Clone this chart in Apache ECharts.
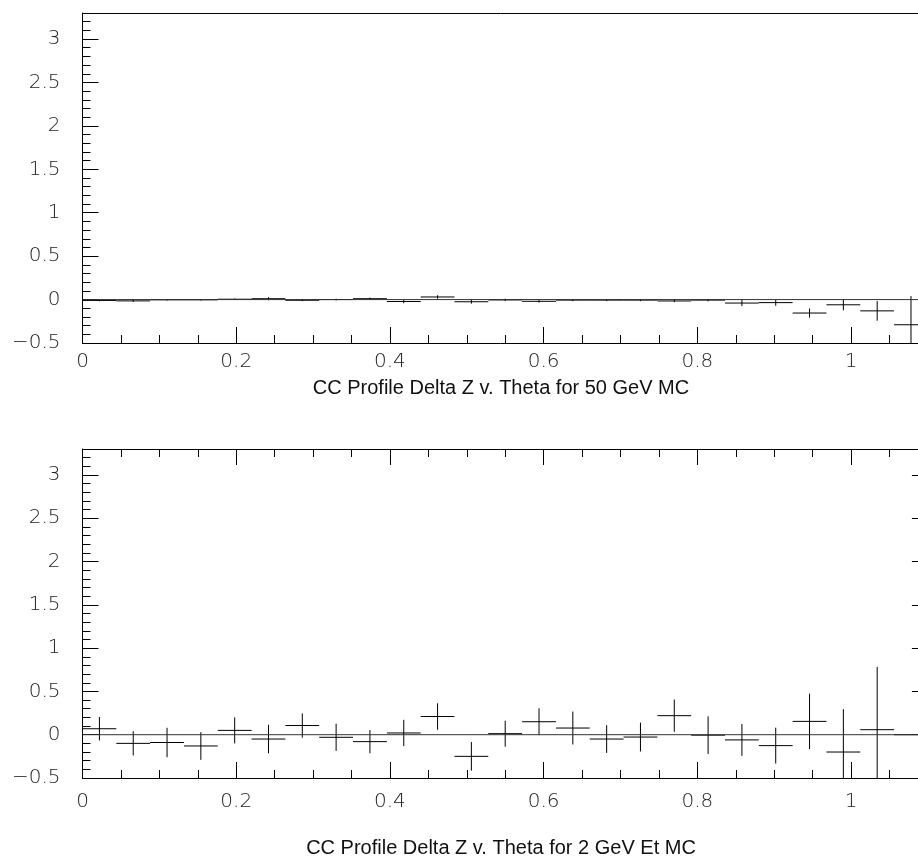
<!DOCTYPE html>
<html>
<head>
<meta charset="utf-8">
<title>CC Profile Delta Z v. Theta</title>
<script src="https://cdn.jsdelivr.net/npm/echarts@6/dist/echarts.min.js"></script>
<style>
  html, body { margin: 0; padding: 0; background: #fff; }
  #chart { width: 918px; height: 861px; }
</style>
</head>
<body>
<div id="chart"></div>
<script>
// Profile bins in theta (bin centres), half bin width
const theta = [0.022, 0.066, 0.110, 0.154, 0.198, 0.242, 0.286, 0.330, 0.374, 0.418,
               0.462, 0.506, 0.550, 0.594, 0.638, 0.682, 0.726, 0.770, 0.814, 0.858,
               0.902, 0.946, 0.990, 1.034, 1.078];
const halfBin = 0.022;

// 50 GeV MC: mean Delta Z per bin and its error
const dz50 = [-0.010, -0.015, -0.003, -0.003, 0.004, 0.010, -0.008, 0.000, 0.010, -0.022,
              0.030, -0.025, -0.004, -0.020, -0.006, -0.006, -0.006, -0.016, -0.006, -0.040,
              -0.035, -0.155, -0.060, -0.130, -0.290];
const dz50Err = [0.010, 0.012, 0.008, 0.008, 0.008, 0.018, 0.010, 0.010, 0.012, 0.020,
                 0.020, 0.022, 0.014, 0.014, 0.012, 0.012, 0.012, 0.014, 0.014, 0.035,
                 0.036, 0.052, 0.063, 0.113, 0.330];

// 2 GeV Et MC: mean Delta Z per bin and its error
const dz2 = [0.069, -0.100, -0.090, -0.130, 0.050, -0.050, 0.106, -0.030, -0.080, 0.020,
             0.210, -0.250, 0.012, 0.150, 0.077, -0.050, -0.027, 0.220, -0.005, -0.060,
             -0.126, 0.154, -0.200, 0.058, 0.000];
const dz2Err = [0.135, 0.140, 0.170, 0.160, 0.150, 0.165, 0.140, 0.157, 0.134, 0.152,
                0.153, 0.165, 0.150, 0.155, 0.190, 0.160, 0.167, 0.186, 0.217, 0.184,
                0.207, 0.320, 0.495, 0.725, 0.000];

const plotTitles = ['CC Profile Delta Z v. Theta for 50 GeV MC',
                    'CC Profile Delta Z v. Theta for 2 GeV Et MC'];

const xMin = 0, xMax = 1.1;
const yMin = -0.5, yMax = 3.3;
const zeroLine = [[xMin, 0], [xMax, 0]];

const ink = '#000';
const labelFont = {
  fontFamily: 'DejaVu Sans',
  fontWeight: 200,
  fontSize: 20,
  color: '#222'
};

function tickText(v) {
  if (Math.abs(v - xMax) < 1e-9 || Math.abs(v - yMax) < 1e-9) return '';
  return String(+v.toFixed(2)).replace('-', '\u2212');
}

function xAxisDef(grid, interval, len, opts) {
  return Object.assign({
    gridIndex: grid, type: 'value', min: xMin, max: xMax, interval: interval,
    position: 'bottom',
    axisLine: { show: false, onZero: false, lineStyle: { color: ink, width: 1 } },
    axisTick: { show: true, inside: true, length: len, lineStyle: { color: ink, width: 1 } },
    axisLabel: { show: false },
    splitLine: { show: false }
  }, opts || {});
}

function yAxisDef(grid, interval, len, opts) {
  return Object.assign({
    gridIndex: grid, type: 'value', min: yMin, max: yMax, interval: interval,
    position: 'left',
    axisLine: { show: false, onZero: false, lineStyle: { color: ink, width: 1 } },
    axisTick: { show: true, inside: true, length: len, lineStyle: { color: ink, width: 1 } },
    axisLabel: { show: false },
    splitLine: { show: false }
  }, opts || {});
}

const yLabels = { show: true, margin: 22, formatter: tickText, ...labelFont };
const frameLine = { show: true, onZero: false, lineStyle: { color: ink, width: 1 } };

const xAxes = [
  // upper plot
  xAxisDef(0, 0.05, 8, { axisLine: frameLine }),
  xAxisDef(0, 0.2, 16, { axisLabel: { show: true, margin: 9, formatter: tickText, ...labelFont } }),
  xAxisDef(0, 0.2, 0, { position: 'top', axisLine: frameLine, axisTick: { show: false } }),
  // lower plot
  xAxisDef(1, 0.05, 8, { axisLine: frameLine }),
  xAxisDef(1, 0.2, 16, { axisLabel: { show: true, margin: 14, formatter: tickText, ...labelFont } }),
  xAxisDef(1, 0.05, 8, { position: 'top', axisLine: frameLine }),
  xAxisDef(1, 0.2, 16, { position: 'top' })
];

const yAxes = [
  // upper plot
  yAxisDef(0, 0.1, 8, { axisLine: frameLine }),
  yAxisDef(0, 0.5, 16, { axisLabel: yLabels }),
  // lower plot
  yAxisDef(1, 0.1, 8, { axisLine: frameLine }),
  yAxisDef(1, 0.5, 16, { axisLabel: yLabels }),
  yAxisDef(1, 0.5, 16, { position: 'right', axisLine: frameLine })
];

// one cross per bin: horizontal bar spans the bin, vertical bar is the error
function renderCross(params, api) {
  const x = api.value(0), y = api.value(1), e = api.value(2);
  const lo = Math.max(y - e, yMin), hi = Math.min(y + e, yMax);
  const a = api.coord([x - halfBin, y]);
  const b = api.coord([x + halfBin, y]);
  const c = api.coord([x, lo]);
  const d = api.coord([x, hi]);
  const style = { stroke: ink, lineWidth: 1 };
  const children = [
    { type: 'line', shape: { x1: a[0], y1: a[1], x2: b[0], y2: b[1] }, style: style }
  ];
  if (e > 0) {
    children.push({ type: 'line', shape: { x1: c[0], y1: c[1], x2: d[0], y2: d[1] }, style: style });
  }
  return { type: 'group', children: children };
}

function crossData(vals, errs) {
  return theta.map((t, i) => [t, vals[i], errs[i]]);
}

function zeroSeries(xi, yi) {
  return {
    type: 'line', xAxisIndex: xi, yAxisIndex: yi, data: zeroLine,
    symbol: 'none', silent: true, animation: false,
    lineStyle: { color: '#333', width: 1 }
  };
}

const option = {
  backgroundColor: '#fff',
  animation: false,
  grid: [
    { left: 82.5, top: 13, width: 845.4, height: 330, outerBoundsMode: 'none' },
    { left: 82.5, top: 449, width: 845.4, height: 329, outerBoundsMode: 'none' }
  ],
  xAxis: xAxes,
  yAxis: yAxes,
  series: [
    zeroSeries(0, 0),
    {
      type: 'custom', xAxisIndex: 0, yAxisIndex: 0, clip: true,
      data: crossData(dz50, dz50Err), renderItem: renderCross
    },
    zeroSeries(3, 2),
    {
      type: 'custom', xAxisIndex: 3, yAxisIndex: 2, clip: true,
      data: crossData(dz2, dz2Err), renderItem: renderCross
    }
  ],
  graphic: [
    { type: 'text', x: 501, y: 388, style: { text: plotTitles[0], fontFamily: 'Liberation Sans', fontSize: 20, fill: '#111', textAlign: 'center', textVerticalAlign: 'middle' } },
    { type: 'text', x: 501, y: 848, style: { text: plotTitles[1], fontFamily: 'Liberation Sans', fontSize: 20, fill: '#111', textAlign: 'center', textVerticalAlign: 'middle' } }
  ]
};

const chart = echarts.init(document.getElementById('chart'), null, { renderer: 'canvas' });
chart.setOption(option);
</script>
</body>
</html>
